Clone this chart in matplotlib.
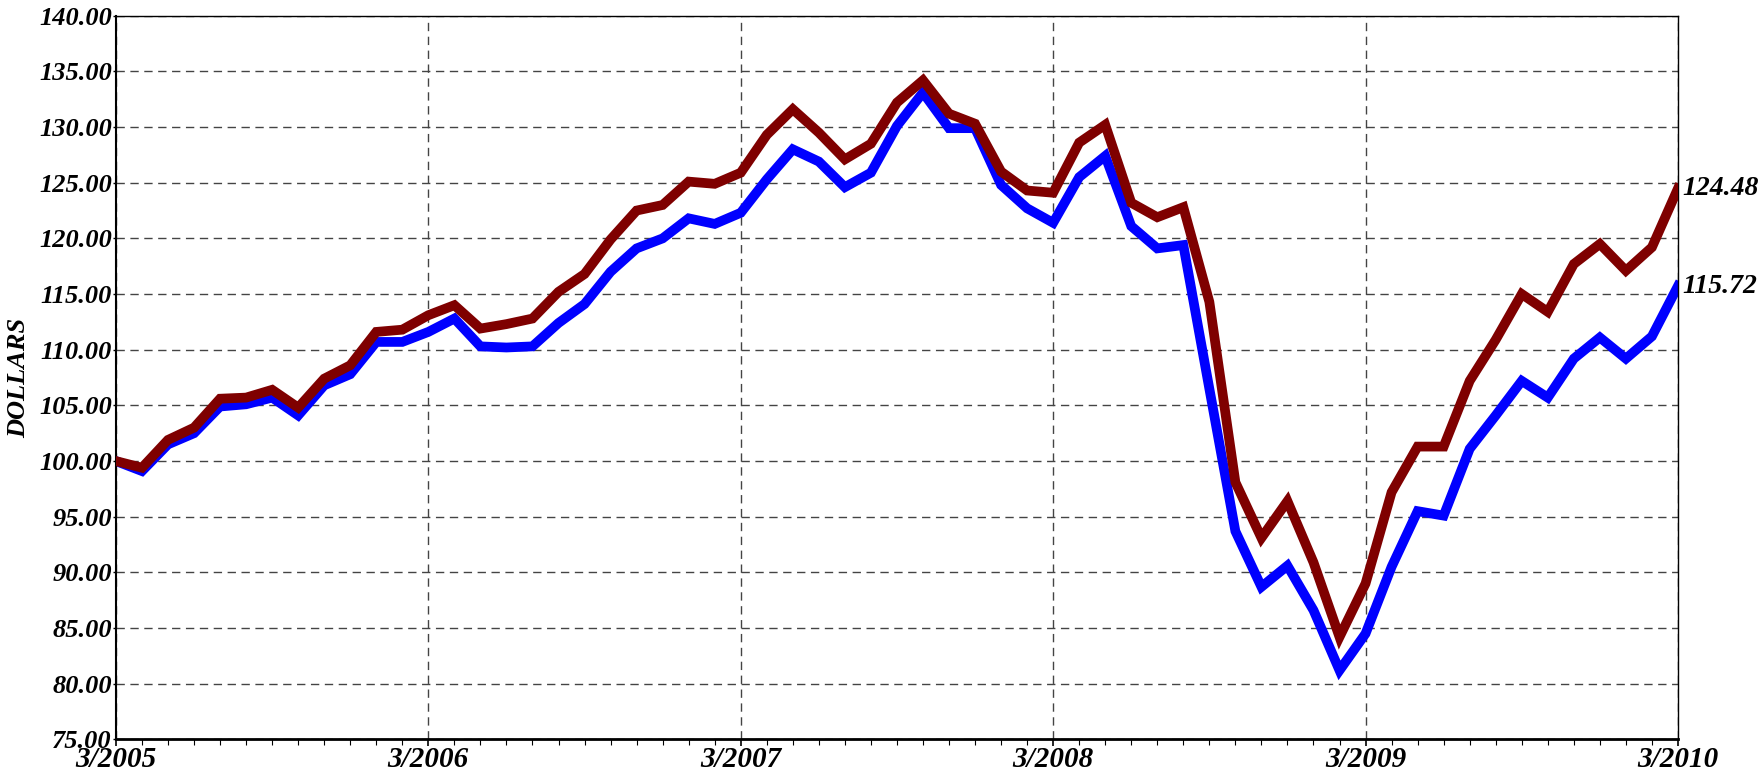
import numpy as np
import matplotlib
matplotlib.use("Agg")
import matplotlib.pyplot as plt
from matplotlib.ticker import MultipleLocator, FormatStrFormatter

# monthly values, 3/2005 .. 3/2010
red_vals = [100.0, 99.4, 101.9, 103.0, 105.6, 105.7, 106.4, 104.8, 107.4, 108.6,
            111.6, 111.8, 113.1, 114.0, 111.9, 112.3, 112.8, 115.2, 116.8, 119.9,
            122.5, 123.0, 125.1, 124.9, 125.9, 129.3, 131.6, 129.5, 127.1, 128.5,
            132.2, 134.2, 131.2, 130.3, 126.0, 124.3, 124.1, 128.6, 130.2, 123.2,
            121.9, 122.8, 114.3, 98.1, 93.1, 96.4, 90.9, 84.2, 89.0, 97.2,
            101.3, 101.3, 107.2, 110.9, 115.0, 113.4, 117.7, 119.5, 117.1, 119.2,
            124.48]
blue_vals = [100.0, 99.1, 101.5, 102.5, 104.9, 105.1, 105.7, 104.1, 106.8, 107.8,
             110.7, 110.7, 111.6, 112.8, 110.3, 110.2, 110.3, 112.4, 114.1, 117.0,
             119.1, 120.0, 121.8, 121.3, 122.3, 125.3, 128.0, 126.9, 124.6, 125.9,
             130.1, 133.1, 129.9, 129.9, 124.8, 122.7, 121.4, 125.5, 127.4, 121.1,
             119.1, 119.4, 106.5, 93.7, 88.7, 90.6, 86.6, 81.2, 84.5, 90.5,
             95.5, 95.1, 101.1, 104.1, 107.2, 105.7, 109.2, 111.1, 109.2, 111.2,
             115.72]
year_labels = ['3/2005', '3/2006', '3/2007', '3/2008', '3/2009', '3/2010']

font = dict(family='Liberation Serif', weight='bold', style='italic')

fig = plt.figure(figsize=(17.62, 7.74), dpi=100)
ax = fig.add_axes([0.0658, 0.0447, 0.8865, 0.935])

x = np.arange(len(red_vals))
ax.plot(x, red_vals, color='#7f0000', lw=7, solid_joinstyle='miter', zorder=3)
ax.plot(x, blue_vals, color='#0000ff', lw=7, solid_joinstyle='miter', zorder=2)

ax.set_xlim(0, len(red_vals) - 1)
ax.set_ylim(75, 140)

ax.set_xticks(np.arange(0, len(red_vals), 12))
ax.set_xticklabels(year_labels)
ax.xaxis.set_minor_locator(MultipleLocator(1))
ax.yaxis.set_major_locator(MultipleLocator(5))
ax.yaxis.set_major_formatter(FormatStrFormatter('%.2f'))

for lab in ax.get_xticklabels():
    lab.set(fontsize=21, **font)
for lab in ax.get_yticklabels():
    lab.set(fontsize=19, **font)

ax.tick_params(axis='x', which='major', length=5, width=1.2, pad=0, direction='out')
ax.tick_params(axis='x', which='minor', length=4, width=0.8, direction='out')
ax.tick_params(axis='y', which='major', length=2, width=1, pad=1, direction='out')

ax.grid(True, which='major', color='#444444', linestyle=(0, (6, 4)), lw=1.0)

for side in ['top', 'right']:
    ax.spines[side].set_linewidth(1.0)
ax.spines['left'].set_linewidth(1.5)
ax.spines['bottom'].set_linewidth(2.0)

ax.set_ylabel('DOLLARS', fontsize=19, labelpad=6, **font)

# end value labels
for vals in (red_vals, blue_vals):
    ax.annotate('%.2f' % vals[-1], xy=(x[-1], vals[-1]), xytext=(3, 0),
                textcoords='offset points', va='center', ha='left', fontsize=20,
                annotation_clip=False, **font)

fig.savefig('out.png', dpi=100)
